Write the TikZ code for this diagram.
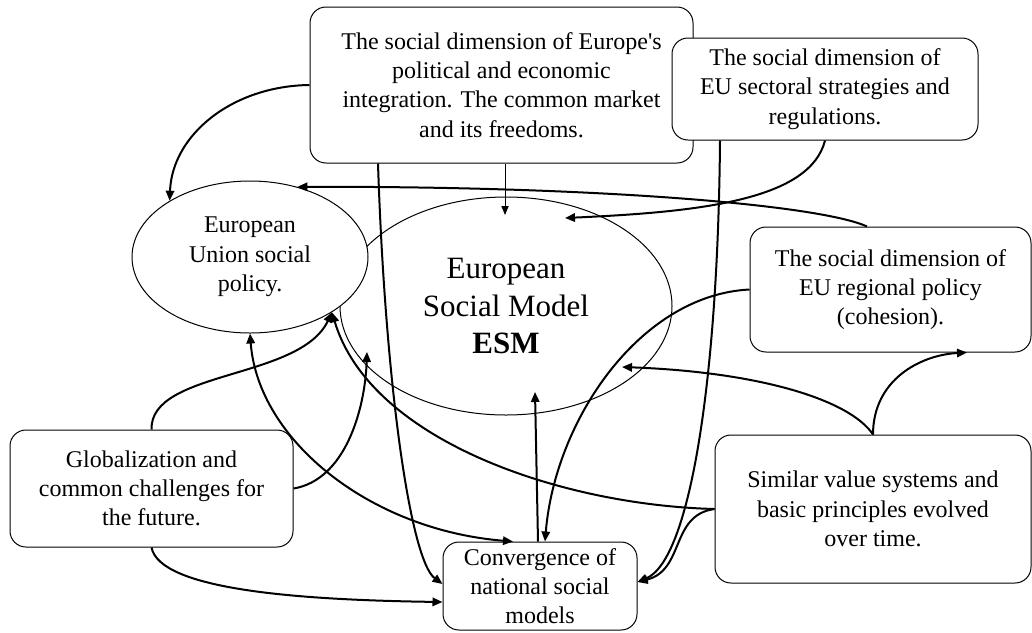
\documentclass[tikz,border=0pt]{standalone}
\usepackage{fontspec}
\setmainfont{Liberation Serif}
\usetikzlibrary{arrows.meta,shapes.geometric,calc}
\begin{document}
\begin{tikzpicture}[x=0.5pt,y=-0.5pt,
  box/.style={draw, line width=0.5pt, rounded corners=8pt, fill=white, align=center, inner sep=0pt, font=\fontsize{12}{14.6}\selectfont},
  oval/.style={draw, ellipse, line width=0.5pt, fill=white, align=center, inner sep=0pt},
  conn/.style={line width=1pt, -{Triangle[length=5pt,width=4.2pt]}},
  both/.style={line width=1pt, {Triangle[length=5pt,width=4.2pt]}-{Triangle[length=5pt,width=4.2pt]}},
  thinconn/.style={line width=0.5pt, -{Triangle[length=4.5pt,width=3.6pt]}}]
\useasboundingbox (0,0) rectangle (1032,632);

% nodes
\node[oval, minimum width=166pt, minimum height=109pt, font=\fontsize{15.5}{18.75}\selectfont] (esm) at (506,306)
  {European\\Social Model\\\textbf{ESM}};
\node[oval, minimum width=118pt, minimum height=76pt, font=\fontsize{12}{14.8}\selectfont] (eup) at (250,257)
  {European\\Union social\\policy.};
\node[box, minimum width=191.5pt, minimum height=78pt] (topbox) at (501.5,85)
  {The social dimension of Europe\textquotesingle s\\political and economic\\integration. The common market\\and its freedoms.};
\node[box, minimum width=153pt, minimum height=51pt] (sector) at (825,89)
  {The social dimension of\\EU sectoral strategies and\\regulations.};
\node[box, minimum width=140.5pt, minimum height=62.5pt] (regional) at (890.5,289.5)
  {The social dimension of\\EU regional policy\\(cohesion).};
\node[box, minimum width=141.5pt, minimum height=58.5pt] (glob) at (151.5,488.5)
  {Globalization and\\common challenges for\\the future.};
\node[box, minimum width=97pt, minimum height=44pt] (conv) at (540,586)
  {Convergence of\\national social\\models};
\node[box, minimum width=158pt, minimum height=74pt] (similar) at (873,509)
  {Similar value systems and\\basic principles evolved\\over time.};

% arrow tips inside the ESM ellipse
\coordinate (esmB) at ($(esm.center)+(-1,-91)$);
\coordinate (esmE) at ($(esm.center)+(59,-88)$);
\coordinate (esmH) at ($(esm.center)+(29,86)$);
\coordinate (esmJ) at ($(esm.center)+(116,61)$);
\coordinate (esmO) at ($(esm.center)+(-139,46)$);

% connectors
\draw[conn] (topbox.west) .. controls (232,86) and (172,135) .. (eup.145);
\draw[thinconn] (esmB |- topbox.south) -- (esmB);
\draw[conn] ($(topbox.south)+(-123.5,0)$) .. controls (385,380) and (410,560) .. ($(conv.west)+(0,-2)$);
\draw[conn] ($(regional.north)+(-23.5,0)$) .. controls (820,205) and (600,186) .. (eup.56);
\draw[conn] (sector.south) .. controls (810,200) and (700,212) .. (esmE);
\draw[conn] ($(sector.south)+(-105,0)$) .. controls (718,380) and (690,560) .. ($(conv.east)+(0,-4)$);
\draw[conn] (regional.west) .. controls (640,295) and (555,420) .. ($(conv.north)+(5,0)$);
\draw[conn] ($(conv.north)+(-2,0)$) -- (esmH);
\draw[conn] (similar.north) .. controls (873,380) and (920,355) .. ($(regional.south)+(76.5,0)$);
\draw[conn] (similar.north) .. controls (850,400) and (760,372) .. (esmJ);
\draw[conn] (similar.west) .. controls (560,505) and (370,440) .. (eup.-34);
\draw[conn] (glob.north) .. controls (150,370) and (300,380) .. (eup.-34);
\draw[both] (eup.south) .. controls (258,440) and (370,530) .. ($(conv.north)+(-27,0)$);
\draw[conn] (similar.west) .. controls (670,515) and (685,570) .. ($(conv.east)+(0,-4)$);
\draw[conn] (glob.east) .. controls (345,480) and (365,410) .. (esmO);
\draw[conn] (glob.south) .. controls (160,590) and (300,600) .. ($(conv.west)+(0,16)$);
\end{tikzpicture}
\end{document}
